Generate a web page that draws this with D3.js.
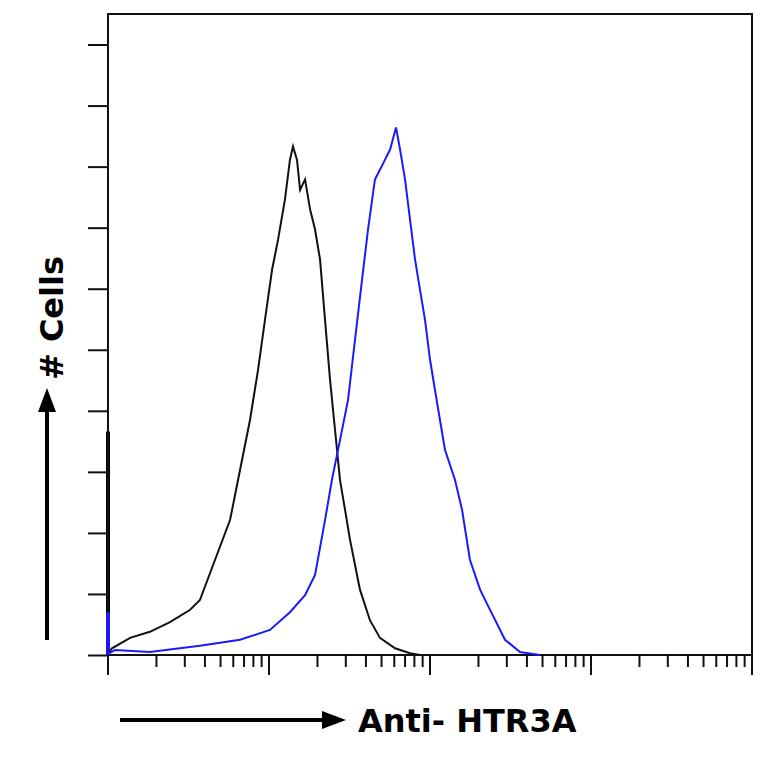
<!DOCTYPE html><html><head><meta charset="utf-8">
<script src="https://cdn.jsdelivr.net/npm/d3@7"></script>
<style>body{margin:0;background:#fff}</style></head><body>
<svg id="c" width="764" height="764"></svg>
<script>
// x values as log10 decades of fluorescence, y as cell counts
const controlDecades=[0,0.001,0.025,0.137,0.26,0.385,0.51,0.571,0.665,0.758,0.82,0.882,0.932,0.975,1.019,1.056,1.099,1.13,1.149,1.174,1.193,1.224,1.255,1.286,1.317,1.348,1.379,1.41,1.441,1.472,1.503,1.565,1.627,1.689,1.783,1.876,1.938];
const controlCounts=[366,2,11,28,38,54,74,90,156,221,303,385,467,549,631,680,746,811,833,811,762,779,730,697,648,549,451,369,287,238,189,107,57,28,11,3,0];
const antibodyDecades=[0,0.001,0.043,0.26,0.571,0.82,1.006,1.13,1.224,1.286,1.348,1.391,1.441,1.491,1.534,1.578,1.615,1.658,1.689,1.72,1.752,1.789,1.814,1.845,1.876,1.907,1.938,1.969,2.0,2.031,2.062,2.093,2.155,2.199,2.248,2.311,2.373,2.466,2.559,2.683];
const antibodyCounts=[70,2,8,5,15,25,41,70,98,131,221,287,352,418,516,615,697,779,795,811,828,864,828,779,713,648,598,549,484,434,385,336,287,238,156,107,74,25,5,0];
const yTicks=d3.range(0,1001,100);

const svg=d3.select("#c");
const L=108,R=752,T=14,B=655;
const x=d3.scaleLog().domain([1,10000]).range([L,R]);
const y=d3.scaleLinear().domain([0,1050]).range([B,T]);
const toPts=(ds,cs)=>ds.map((d,i)=>[Math.pow(10,d),cs[i]]);
const line=d3.line().x(d=>x(d[0])).y(d=>y(d[1]));
svg.append("rect").attr("x",L).attr("y",T).attr("width",R-L).attr("height",B-T).attr("fill","none").attr("stroke","#111").attr("stroke-width",2);
// first-channel pile-up spikes (thicker)
svg.append("line").attr("x1",x(1)).attr("x2",x(1)).attr("y1",y(0)).attr("y2",y(controlCounts[0])).attr("stroke","#000").attr("stroke-width",4);
svg.append("line").attr("x1",x(1)).attr("x2",x(1)).attr("y1",y(0)).attr("y2",y(antibodyCounts[0])).attr("stroke","#1a1aff").attr("stroke-width",4);
svg.append("path").datum(toPts(controlDecades,controlCounts)).attr("d",line).attr("fill","none").attr("stroke","#111").attr("stroke-width",2);
svg.append("path").datum(toPts(antibodyDecades,antibodyCounts)).attr("d",line).attr("fill","none").attr("stroke","#1a1aff").attr("stroke-width",2);
// y ticks
svg.append("g").attr("transform",`translate(${L},0)`).call(d3.axisLeft(y).tickValues(yTicks).tickSize(20).tickFormat("")).call(g=>{g.select(".domain").remove();g.selectAll("line").attr("stroke","#111").attr("stroke-width",2);});
// x ticks
const xt=[];for(let e=0;e<4;e++)for(let m=1;m<10;m++)xt.push(m*Math.pow(10,e));xt.push(10000);
svg.append("g").selectAll("line").data(xt).join("line")
 .attr("x1",d=>x(d)).attr("x2",d=>x(d)).attr("y1",B)
 .attr("y2",d=>Math.abs(Math.log10(d)%1)<1e-9?B+20:B+12)
 .attr("stroke","#111").attr("stroke-width",2);
// labels
svg.append("text").attr("transform","translate(63,318) rotate(-90)").attr("text-anchor","middle")
 .attr("font-family","DejaVu Sans").attr("font-weight","bold").attr("font-size",32).text("# Cells");
svg.append("line").attr("x1",47).attr("x2",47).attr("y1",640).attr("y2",405).attr("stroke","#000").attr("stroke-width",4);
svg.append("path").attr("d","M38,412 L47,388 L56,412 Z").attr("fill","#000");
svg.append("line").attr("x1",120).attr("x2",328).attr("y1",720).attr("y2",720).attr("stroke","#000").attr("stroke-width",4);
svg.append("path").attr("d","M322,711 L346,720 L322,729 Z").attr("fill","#000");
svg.append("text").attr("x",358).attr("y",732).attr("font-family","DejaVu Sans").attr("font-weight","bold").attr("font-size",32).text("Anti- HTR3A");
</script></body></html>
